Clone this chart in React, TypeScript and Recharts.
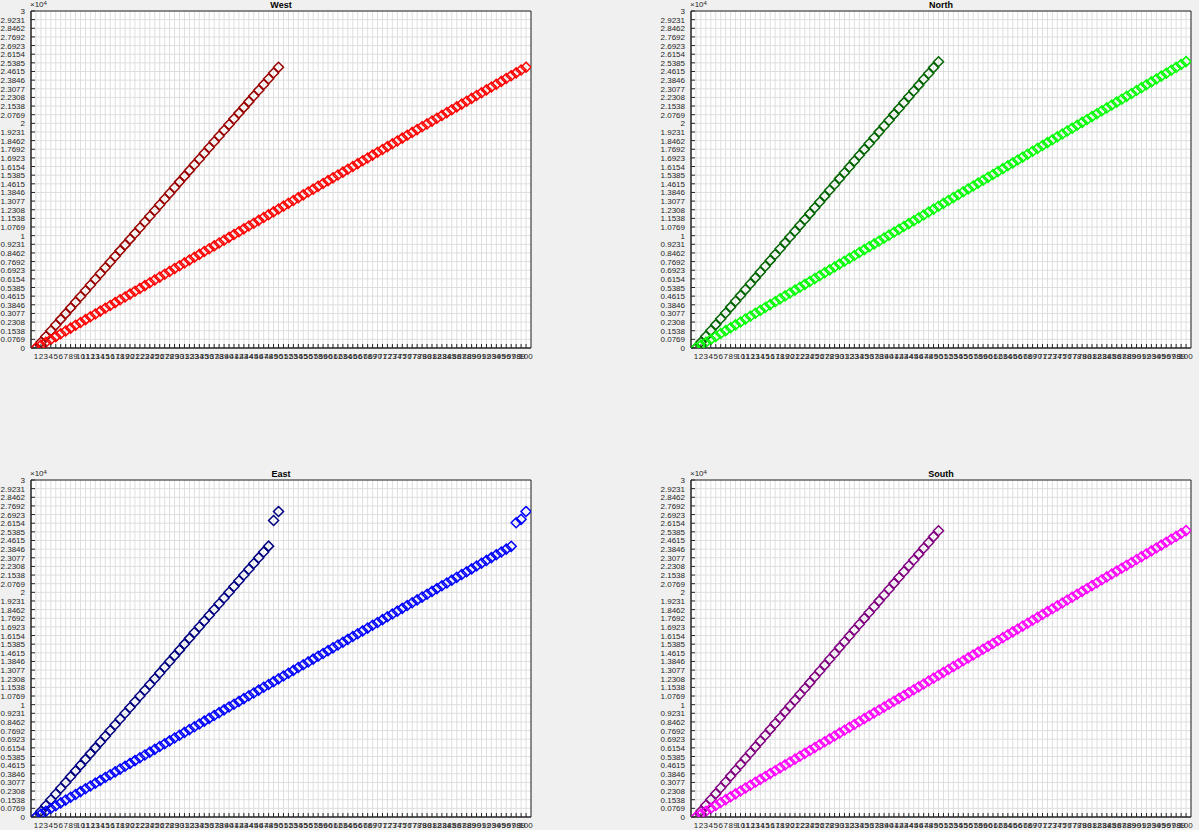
import React from 'react'
import {
  ScatterChart,
  Scatter,
  XAxis,
  YAxis,
  CartesianGrid,
  ReferenceArea,
} from 'recharts'

// values (raw units, axis shows them x 10^4)
const westDark = [
  0, 510, 1020, 1530, 2040, 2550, 3060, 3570, 4080, 4590,
  5100, 5610, 6120, 6630, 7140, 7650, 8160, 8670, 9180, 9690,
  10200, 10710, 11220, 11730, 12240, 12750, 13260, 13770, 14280, 14790,
  15300, 15810, 16320, 16830, 17340, 17850, 18360, 18870, 19380, 19890,
  20400, 20910, 21420, 21930, 22440, 22950, 23460, 23970, 24480, 24990,
]
const westLight = [
  0, 253, 505, 758, 1010, 1263, 1515, 1768, 2020, 2273,
  2525, 2778, 3030, 3283, 3535, 3788, 4040, 4293, 4545, 4798,
  5050, 5303, 5555, 5808, 6060, 6313, 6565, 6818, 7070, 7323,
  7575, 7828, 8080, 8333, 8585, 8838, 9090, 9343, 9595, 9848,
  10100, 10353, 10605, 10858, 11110, 11363, 11615, 11868, 12120, 12373,
  12625, 12878, 13130, 13383, 13635, 13888, 14140, 14393, 14645, 14898,
  15150, 15403, 15655, 15908, 16160, 16413, 16665, 16918, 17170, 17423,
  17675, 17928, 18180, 18433, 18685, 18938, 19190, 19443, 19695, 19948,
  20200, 20453, 20705, 20958, 21210, 21463, 21715, 21968, 22220, 22473,
  22725, 22978, 23230, 23483, 23735, 23988, 24240, 24493, 24745, 24998,
]
const northDark = [
  0, 520, 1040, 1560, 2080, 2600, 3120, 3640, 4160, 4680,
  5200, 5720, 6240, 6760, 7280, 7800, 8320, 8840, 9360, 9880,
  10400, 10920, 11440, 11960, 12480, 13000, 13520, 14040, 14560, 15080,
  15600, 16120, 16640, 17160, 17680, 18200, 18720, 19240, 19760, 20280,
  20800, 21320, 21840, 22360, 22880, 23400, 23920, 24440, 24960, 25480,
]
const northLight = [
  0, 258, 515, 773, 1030, 1288, 1545, 1803, 2060, 2318,
  2575, 2833, 3090, 3348, 3605, 3863, 4120, 4378, 4635, 4893,
  5150, 5408, 5665, 5923, 6180, 6438, 6695, 6953, 7210, 7468,
  7725, 7983, 8240, 8498, 8755, 9013, 9270, 9528, 9785, 10043,
  10300, 10558, 10815, 11073, 11330, 11588, 11845, 12103, 12360, 12618,
  12875, 13133, 13390, 13648, 13905, 14163, 14420, 14678, 14935, 15193,
  15450, 15708, 15965, 16223, 16480, 16738, 16995, 17253, 17510, 17768,
  18025, 18283, 18540, 18798, 19055, 19313, 19570, 19828, 20085, 20343,
  20600, 20858, 21115, 21373, 21630, 21888, 22145, 22403, 22660, 22918,
  23175, 23433, 23690, 23948, 24205, 24463, 24720, 24978, 25235, 25493,
]
const eastDark = [
  0, 513, 1026, 1539, 2052, 2565, 3078, 3591, 4104, 4617,
  5130, 5643, 6156, 6669, 7182, 7695, 8208, 8721, 9234, 9747,
  10260, 10773, 11286, 11799, 12312, 12825, 13338, 13851, 14364, 14877,
  15390, 15903, 16416, 16929, 17442, 17955, 18468, 18981, 19494, 20007,
  20520, 21033, 21546, 22059, 22572, 23085, 23598, 24111,
  26400, 27200,
]
const eastLight = [
  0, 251, 502, 753, 1004, 1255, 1506, 1757, 2008, 2259,
  2510, 2761, 3012, 3263, 3514, 3765, 4016, 4267, 4518, 4769,
  5020, 5271, 5522, 5773, 6024, 6275, 6526, 6777, 7028, 7279,
  7530, 7781, 8032, 8283, 8534, 8785, 9036, 9287, 9538, 9789,
  10040, 10291, 10542, 10793, 11044, 11295, 11546, 11797, 12048, 12299,
  12550, 12801, 13052, 13303, 13554, 13805, 14056, 14307, 14558, 14809,
  15060, 15311, 15562, 15813, 16064, 16315, 16566, 16817, 17068, 17319,
  17570, 17821, 18072, 18323, 18574, 18825, 19076, 19327, 19578, 19829,
  20080, 20331, 20582, 20833, 21084, 21335, 21586, 21837, 22088, 22339,
  22590, 22841, 23092, 23343, 23594, 23845, 24096,
  26200, 26500, 27200,
]
// south reads the same as north
const southDark = northDark
const southLight = northLight

const yTickLabels = [
  '0', '0.0769', '0.1538', '0.2308', '0.3077', '0.3846', '0.4615', '0.5385',
  '0.6154', '0.6923', '0.7692', '0.8462', '0.9231', '1', '1.0769', '1.1538',
  '1.2308', '1.3077', '1.3846', '1.4615', '1.5385', '1.6154', '1.6923', '1.7692',
  '1.8462', '1.9231', '2', '2.0769', '2.1538', '2.2308', '2.3077', '2.3846',
  '2.4615', '2.5385', '2.6154', '2.6923', '2.7692', '2.8462', '2.9231', '3',
]
const Y_MAX = 30000
const yTicks = yTickLabels.map((_, i) => (i * Y_MAX) / (yTickLabels.length - 1))
const xTicks = Array.from({ length: 100 }, (_, i) => i + 1)

const FONT = '"Liberation Sans", Arial, Helvetica, sans-serif'
const AXIS = '#262626'

const toPoints = (vals: number[]) => vals.map((y, i) => ({ x: i + 1, y }))

const XTick = (props: any) => {
  const { x, y, payload } = props
  return (
    <g>
      <line x1={x} x2={x} y1={y} y2={y - 4} stroke={AXIS} strokeWidth={1} />
      <text x={x} y={y + 11} textAnchor="middle" fontSize={8} fill={AXIS} fontFamily={FONT}>
        {payload.value}
      </text>
    </g>
  )
}

const YTick = (props: any) => {
  const { x, y, index } = props
  return (
    <g>
      <line x1={x} x2={x + 4} y1={y} y2={y} stroke={AXIS} strokeWidth={1} />
      <text x={x - 6} y={y + 3} textAnchor="end" fontSize={8} fill={AXIS} fontFamily={FONT}>
        {yTickLabels[index]}
      </text>
    </g>
  )
}

const diamond = (color: string) => (props: any) => {
  const { cx, cy } = props
  const r = 5
  return (
    <polygon
      points={`${cx},${cy - r} ${cx + r},${cy} ${cx},${cy + r} ${cx - r},${cy}`}
      fill="none"
      stroke={color}
      strokeWidth={1.5}
    />
  )
}

interface PanelProps {
  title: string
  left: number
  top: number
  dark: number[]
  light: number[]
  darkColor: string
  lightColor: string
}

const CHART_W = 539
const CHART_H = 370

const Panel: React.FC<PanelProps> = ({ title, left, top, dark, light, darkColor, lightColor }) => (
  <div style={{ position: 'absolute', left, top, width: CHART_W, height: CHART_H }}>
    <div
      style={{
        position: 'absolute',
        left: 31,
        width: 500,
        top: 0,
        height: 10,
        lineHeight: '10px',
        textAlign: 'center',
        fontFamily: FONT,
        fontWeight: 'bold',
        fontSize: 9,
        color: '#000',
      }}
    >
      {title}
    </div>
    <div
      style={{
        position: 'absolute',
        left: 30,
        top: 0,
        fontFamily: FONT,
        fontSize: 8,
        lineHeight: '10px',
        color: AXIS,
      }}
    >
      ×10<sup style={{ fontSize: 6, verticalAlign: 'top', lineHeight: '6px' }}>4</sup>
    </div>
    <ScatterChart
      width={CHART_W}
      height={CHART_H}
      margin={{ top: 11, right: 8, bottom: 0, left: 0 }}
      style={{ overflow: 'visible' }}
    >
      <CartesianGrid fill="#ffffff" stroke="#dedede" strokeWidth={1} />
      <XAxis
        type="number"
        dataKey="x"
        domain={[0, 101]}
        ticks={xTicks}
        interval={0}
        height={22}
        tickSize={0}
        tickMargin={0}
        tick={<XTick />}
        axisLine={{ stroke: AXIS }}
        allowDataOverflow
      />
      <YAxis
        type="number"
        dataKey="y"
        domain={[0, Y_MAX]}
        ticks={yTicks}
        interval={0}
        width={31}
        tickSize={0}
        tickMargin={0}
        tick={<YTick />}
        axisLine={{ stroke: AXIS }}
        allowDataOverflow
      />
      <ReferenceArea x1={0} x2={101} y1={0} y2={Y_MAX} fill="none" stroke={AXIS} strokeWidth={1} />
      <Scatter data={toPoints(dark)} shape={diamond(darkColor)} isAnimationActive={false} />
      <Scatter data={toPoints(light)} shape={diamond(lightColor)} isAnimationActive={false} />
    </ScatterChart>
  </div>
)

export default function App() {
  return (
    <div
      style={{
        position: 'absolute',
        left: 0,
        top: 0,
        width: 1199,
        height: 830,
        overflow: 'hidden',
        background: '#f0f0f0',
      }}
    >
      <Panel title="West" left={0} top={0} dark={westDark} light={westLight} darkColor="#9a0000" lightColor="#ff0000" />
      <Panel title="North" left={660} top={0} dark={northDark} light={northLight} darkColor="#006400" lightColor="#00ff00" />
      <Panel title="East" left={0} top={469} dark={eastDark} light={eastLight} darkColor="#000080" lightColor="#0000ff" />
      <Panel title="South" left={660} top={469} dark={southDark} light={southLight} darkColor="#800080" lightColor="#ff00ff" />
    </div>
  )
}
